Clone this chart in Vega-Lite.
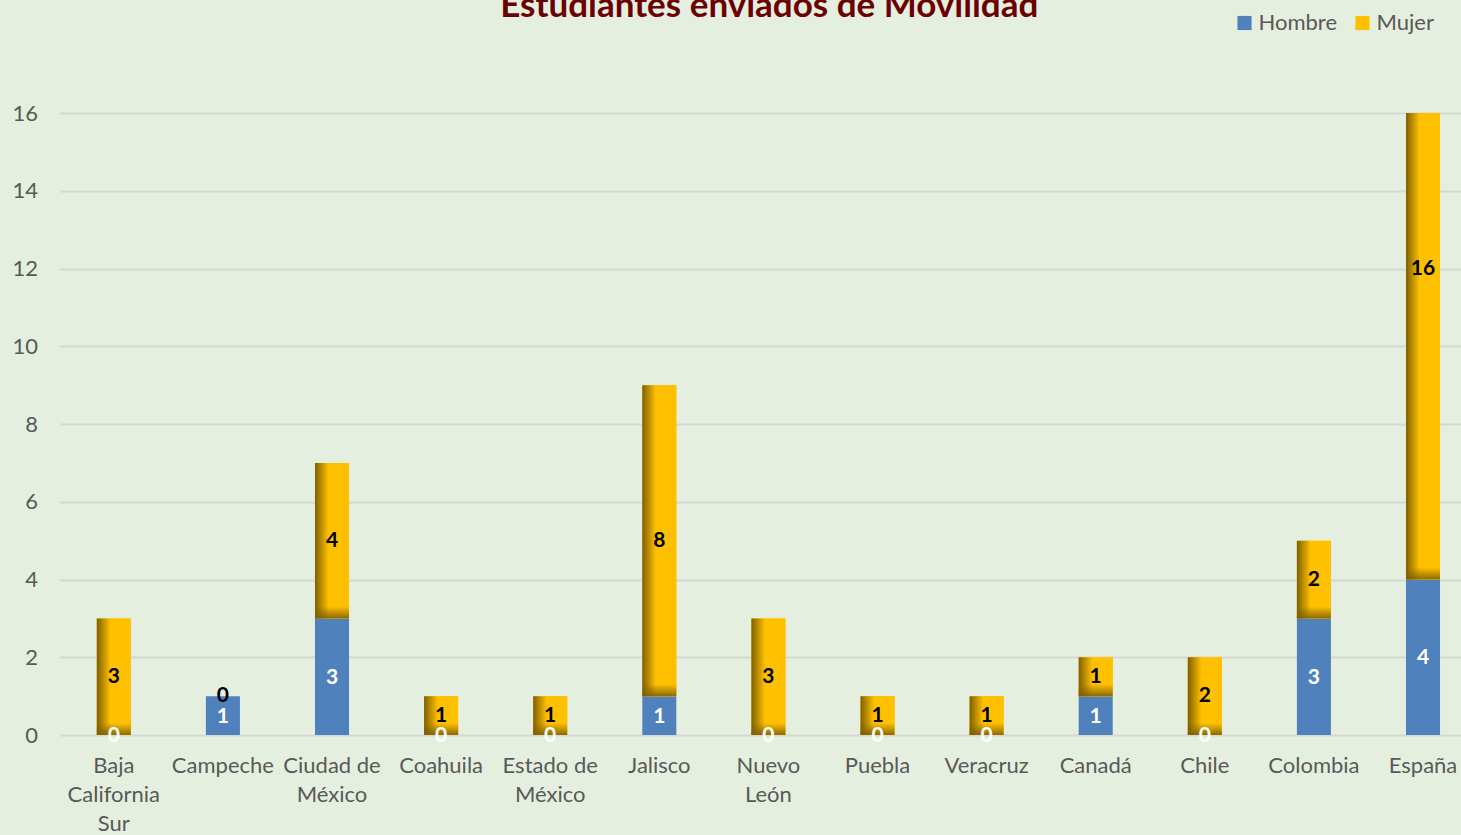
{
  "$schema": "https://vega.github.io/schema/vega-lite/v6.json",
  "width": 1401.5,
  "height": 622,
  "autosize": {"type": "none"},
  "padding": {"left": 59.5, "top": 113, "right": 0, "bottom": 100},
  "background": "#e5efdf",
  "config": {"view": {"stroke": null}, "font": "Lato"},
  "title": {
    "text": "Estudiantes enviados de Movilidad",
    "font": "Lato",
    "fontSize": 35,
    "fontWeight": "bold",
    "color": "#6b0000",
    "anchor": "middle",
    "baseline": "alphabetic",
    "dx": 9,
    "offset": -40
  },
  "data": {
    "values": [
      {"lugar": "Baja California Sur", "sexo": "Hombre", "n": 0},
      {"lugar": "Baja California Sur", "sexo": "Mujer", "n": 3},
      {"lugar": "Campeche", "sexo": "Hombre", "n": 1},
      {"lugar": "Campeche", "sexo": "Mujer", "n": 0},
      {"lugar": "Ciudad de México", "sexo": "Hombre", "n": 3},
      {"lugar": "Ciudad de México", "sexo": "Mujer", "n": 4},
      {"lugar": "Coahuila", "sexo": "Hombre", "n": 0},
      {"lugar": "Coahuila", "sexo": "Mujer", "n": 1},
      {"lugar": "Estado de México", "sexo": "Hombre", "n": 0},
      {"lugar": "Estado de México", "sexo": "Mujer", "n": 1},
      {"lugar": "Jalisco", "sexo": "Hombre", "n": 1},
      {"lugar": "Jalisco", "sexo": "Mujer", "n": 8},
      {"lugar": "Nuevo León", "sexo": "Hombre", "n": 0},
      {"lugar": "Nuevo León", "sexo": "Mujer", "n": 3},
      {"lugar": "Puebla", "sexo": "Hombre", "n": 0},
      {"lugar": "Puebla", "sexo": "Mujer", "n": 1},
      {"lugar": "Veracruz", "sexo": "Hombre", "n": 0},
      {"lugar": "Veracruz", "sexo": "Mujer", "n": 1},
      {"lugar": "Canadá", "sexo": "Hombre", "n": 1},
      {"lugar": "Canadá", "sexo": "Mujer", "n": 1},
      {"lugar": "Chile", "sexo": "Hombre", "n": 0},
      {"lugar": "Chile", "sexo": "Mujer", "n": 2},
      {"lugar": "Colombia", "sexo": "Hombre", "n": 3},
      {"lugar": "Colombia", "sexo": "Mujer", "n": 2},
      {"lugar": "España", "sexo": "Hombre", "n": 4},
      {"lugar": "España", "sexo": "Mujer", "n": 16}
    ]
  },
  "transform": [
    {"stack": "n", "groupby": ["lugar"], "sort": [{"field": "sexo", "order": "ascending"}], "as": ["y0", "y1"]},
    {"calculate": "(datum.y0 + datum.y1) / 2", "as": "ymid"}
  ],
  "encoding": {
    "x": {
      "field": "lugar",
      "type": "nominal",
      "sort": ["Baja California Sur", "Campeche", "Ciudad de México", "Coahuila", "Estado de México", "Jalisco", "Nuevo León", "Puebla", "Veracruz", "Canadá", "Chile", "Colombia", "España"],
      "scale": {"paddingInner": 0.688, "paddingOuter": 0.267, "align": 0.64},
      "axis": {
        "title": null,
        "labelAngle": 0,
        "domain": false,
        "ticks": false,
        "labelFont": "Lato",
        "labelFontSize": 22,
        "labelColor": "#595959",
        "labelPadding": 20,
        "labelLineHeight": 29,
        "labelLimit": 200,
        "labelExpr": "datum.value == 'Baja California Sur' ? ['Baja', 'California', 'Sur'] : datum.value == 'Ciudad de México' ? ['Ciudad de', 'México'] : datum.value == 'Estado de México' ? ['Estado de', 'México'] : datum.value == 'Nuevo León' ? ['Nuevo', 'León'] : datum.label"
      }
    }
  },
  "layer": [
    {
      "mark": {"type": "bar", "clip": true},
      "encoding": {
        "y": {
          "field": "y1",
          "type": "quantitative",
          "scale": {"domain": [0, 16], "nice": false},
          "axis": {
            "title": null,
            "domain": false,
            "ticks": false,
            "values": [0, 2, 4, 6, 8, 10, 12, 14, 16],
            "grid": true,
            "gridColor": "#d9d6d6",
            "gridWidth": 2,
            "labelFont": "Lato",
            "labelFontSize": 22,
            "labelColor": "#595959",
            "labelPadding": 22
          }
        },
        "y2": {"field": "y0"},
        "color": {
          "field": "sexo",
          "type": "nominal",
          "scale": {"domain": ["Hombre", "Mujer"], "range": ["#4f81bd", "#ffc000"]},
          "legend": {
            "title": null,
            "orient": "none",
            "legendX": 1174,
            "legendY": -101,
            "direction": "horizontal",
            "symbolType": "square",
            "symbolSize": 200,
            "symbolStrokeWidth": 0,
            "labelFont": "Lato",
            "labelFontSize": 22,
            "labelColor": "#595959",
            "columnPadding": 14,
            "labelOffset": 3
          }
        }
      }
    },
    {
      "transform": [{"filter": "datum.sexo == 'Mujer'"}],
      "mark": {
        "type": "bar",
        "clip": true,
        "color": {
          "gradient": "linear",
          "x1": 0, "y1": 0, "x2": 1, "y2": 0,
          "stops": [
            {"offset": 0, "color": "#7f6000"},
            {"offset": 0.4, "color": "#ffc000"},
            {"offset": 1, "color": "#ffc000"}
          ]
        }
      },
      "encoding": {
        "y": {"field": "y1", "type": "quantitative"},
        "y2": {"field": "y0"}
      }
    },
    {
      "transform": [{"filter": "datum.sexo == 'Mujer' && datum.n > 0"}],
      "mark": {
        "type": "tick",
        "clip": true,
        "thickness": 12,
        "size": 34,
        "yOffset": -6,
        "opacity": 1,
        "color": {
          "gradient": "linear",
          "x1": 0, "y1": 0, "x2": 0, "y2": 1,
          "stops": [
            {"offset": 0, "color": "rgba(127,96,0,0)"},
            {"offset": 1, "color": "rgba(127,96,0,0.9)"}
          ]
        }
      },
      "encoding": {
        "y": {"field": "y0", "type": "quantitative"}
      }
    },
    {
      "transform": [{"filter": "datum.sexo == 'Hombre'"}],
      "mark": {"type": "text", "font": "Lato", "fontSize": 21, "fontWeight": "bold", "color": "#ffffff", "baseline": "middle", "dy": 1},
      "encoding": {
        "y": {"field": "ymid", "type": "quantitative"},
        "text": {"field": "n", "type": "quantitative"}
      }
    },
    {
      "transform": [{"filter": "datum.sexo == 'Mujer'"}],
      "mark": {"type": "text", "font": "Lato", "fontSize": 21, "fontWeight": "bold", "color": "#000000", "baseline": "middle"},
      "encoding": {
        "y": {"field": "ymid", "type": "quantitative"},
        "text": {"field": "n", "type": "quantitative"}
      }
    }
  ]
}
